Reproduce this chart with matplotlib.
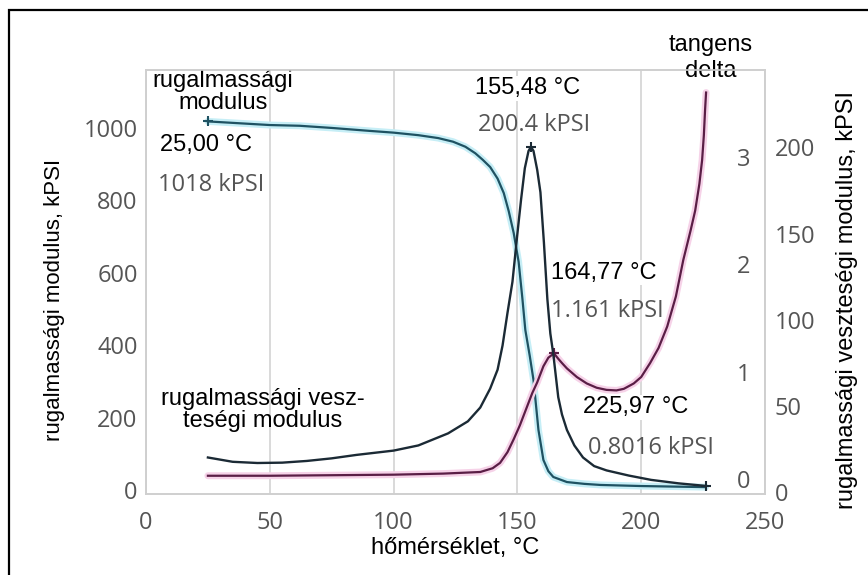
import numpy as np
import matplotlib.pyplot as plt
from matplotlib.patches import Rectangle

# hőmérséklet (°C) és a három mért görbe
t_mod = [25, 40, 50, 62, 75, 90, 100, 110, 118, 124, 129, 133, 136, 139, 142,
         144.5, 146.5, 148.5, 150.5, 152, 153.2, 155, 156.5, 158.5, 160.5,
         162.5, 164.5, 170, 177, 183.5, 200, 226]
modulus = [1018, 1012, 1008, 1006, 1000, 992, 987, 980, 972, 962, 948, 930,
           912, 892, 860, 820, 770, 710, 630, 530, 442, 370, 304, 166, 83,
           52, 36, 22, 17, 14, 11, 8]

t_loss = [25, 35, 45, 55, 65, 75, 85, 100, 110, 122, 130, 135, 139, 142, 144,
          146, 148, 150, 151.5, 153, 154.5, 155.48, 156.5, 158, 159.3, 160.7,
          162.1, 163.3, 164.5, 166.5, 168, 170, 173, 176.5, 181, 186, 195, 204,
          215, 225.97]
loss = [20, 17.5, 16.8, 17, 18, 19.5, 21.5, 24, 27, 34, 41, 49, 60, 71, 85,
        104, 122, 150, 170, 188, 198, 200.4, 198, 187, 174, 145,
        112, 92, 80, 55, 45, 36, 27, 20, 15, 12.5, 9.5, 7,
        5, 3.5]

t_tan = [25, 50, 75, 100, 120, 135, 140, 143, 146, 148.5, 151, 153.5, 156, 158,
         160.5, 162.5, 164.77, 166.5, 168, 170, 174, 178, 182, 186, 190, 193,
         197, 200, 203.6, 207, 210.5, 214, 217, 220, 221.8, 223.5, 224.6, 225.3,
         225.8, 226.2]
tan_delta = [0.03, 0.03, 0.035, 0.04, 0.05, 0.065, 0.1, 0.15, 0.25, 0.37, 0.5,
             0.65, 0.8, 0.9, 1.05, 1.13, 1.17, 1.12, 1.08, 1.03, 0.95, 0.89,
             0.85, 0.83, 0.825, 0.84, 0.89, 0.95, 1.08, 1.22, 1.42, 1.7, 2.04,
             2.32, 2.5, 2.75, 2.97, 3.2, 3.44, 3.6]

x_ticks = [0, 50, 100, 150, 200, 250]
mod_ticks = [0, 200, 400, 600, 800, 1000]
tan_ticks = [0, 1, 2, 3]
loss_ticks = [0, 50, 100, 150, 200]

TICK_FONT = dict(family='Open Sans', size=17, color='#555555')
TXT = dict(family=['Liberation Sans', 'DejaVu Sans'], size=17, color='black')
GRAY = dict(family='Open Sans', size=17, color='#555555')

fig = plt.figure(figsize=(8.68, 5.75), dpi=100)
fig.add_artist(Rectangle((9 / 868, -0.2), 1.2, 1.2 - 10 / 575,
                         transform=fig.transFigure, fill=False,
                         edgecolor='black', lw=1.6))

ax1 = fig.add_axes([146 / 868, 1 - 494 / 575, (765 - 146) / 868, (494 - 70) / 575])
ax2 = ax1.twinx()
ax3 = ax1.twinx()

ax1.set_xlim(0, 250)
ax1.set_ylim(-11, 1160)
ax2.set_ylim(-0.14, 3.81)
ax3.set_ylim(-1.2, 245)

for ax in (ax1, ax2, ax3):
    for s in ax.spines.values():
        s.set_color('#cfcfcf')
        s.set_linewidth(1.2)
for s in ax3.spines.values():
    s.set_visible(False)

ax1.set_xticks(x_ticks)
ax1.set_yticks(mod_ticks)
ax2.set_yticks(tan_ticks)
ax3.set_yticks(loss_ticks)
ax1.tick_params(axis='x', length=0, pad=12)
ax1.tick_params(axis='y', length=0, pad=6)
ax2.tick_params(axis='y', length=0, pad=-20)
ax3.tick_params(axis='y', length=0, pad=7)
for ax in (ax1, ax2, ax3):
    for lab in ax.get_xticklabels() + ax.get_yticklabels():
        lab.set_fontfamily(TICK_FONT['family'])
        lab.set_fontsize(TICK_FONT['size'])
        lab.set_color(TICK_FONT['color'])

ax1.grid(axis='x', color='#d3d3d3', lw=1.2)
ax1.set_axisbelow(True)

# rugalmassági modulus
ax1.plot(t_mod, modulus, color='#c6eef6', lw=5, solid_capstyle='round')
ax1.plot(t_mod, modulus, color='#1f5262', lw=1.6, marker='+', ms=7,
         mew=1.5, markevery=[0])
# tangens delta
ax2.plot(t_tan, tan_delta, color='#f6d2e8', lw=5, solid_capstyle='round')
ax2.plot(t_tan, tan_delta, color='#5a1e46', lw=1.6, marker='+', ms=7,
         mew=1.5, markevery=[16])
# veszteségi modulus
ax3.plot(t_loss, loss, color='#1b2a35', lw=1.7, marker='+', ms=7,
         mew=1.5, markevery=[21, len(t_loss) - 1])

ax1.set_xlabel('hőmérséklet, °C', fontdict=TXT, labelpad=2)
ax1.set_ylabel('rugalmassági modulus, kPSI', fontdict=dict(TXT, size=16))
ax3.set_ylabel('rugalmassági veszteségi modulus, kPSI', fontdict=TXT)
ax1.yaxis.set_label_coords(-0.131, 0.458)
ax3.yaxis.set_label_coords(1.115, 0.458)

box = dict(facecolor='white', edgecolor='none', pad=1)
ax1.text(31, 1099, 'rugalmassági\nmodulus', ha='center', va='center',
         linespacing=1.0, clip_on=False, **TXT)
ax1.text(5.6, 953, '25,00 °C', ha='left', va='center', bbox=box, **TXT)
ax1.text(4.8, 843, '1018 kPSI', ha='left', va='center', **GRAY)
ax1.text(133, 1110, '155,48 °C', ha='left', va='center', bbox=box, **TXT)
ax1.text(134, 1008, '200.4 kPSI', ha='left', va='center', **GRAY)
ax1.text(163.7, 600, '164,77 °C', ha='left', va='center', bbox=box, **TXT)
ax1.text(163.7, 494, '1.161 kPSI', ha='left', va='center', **GRAY)
ax1.text(176.6, 229, '225,97 °C', ha='left', va='center', bbox=box, **TXT)
ax1.text(178.6, 116, '0.8016 kPSI', ha='left', va='center', **GRAY)
ax1.text(47, 221, 'rugalmassági vesz-\nteségi modulus', ha='center',
         va='center', linespacing=1.05, **TXT)
ax1.text(228, 1193, 'tangens\ndelta', ha='center', va='center',
         linespacing=1.2, clip_on=False, **TXT)

fig.savefig('out.png', dpi=100)
